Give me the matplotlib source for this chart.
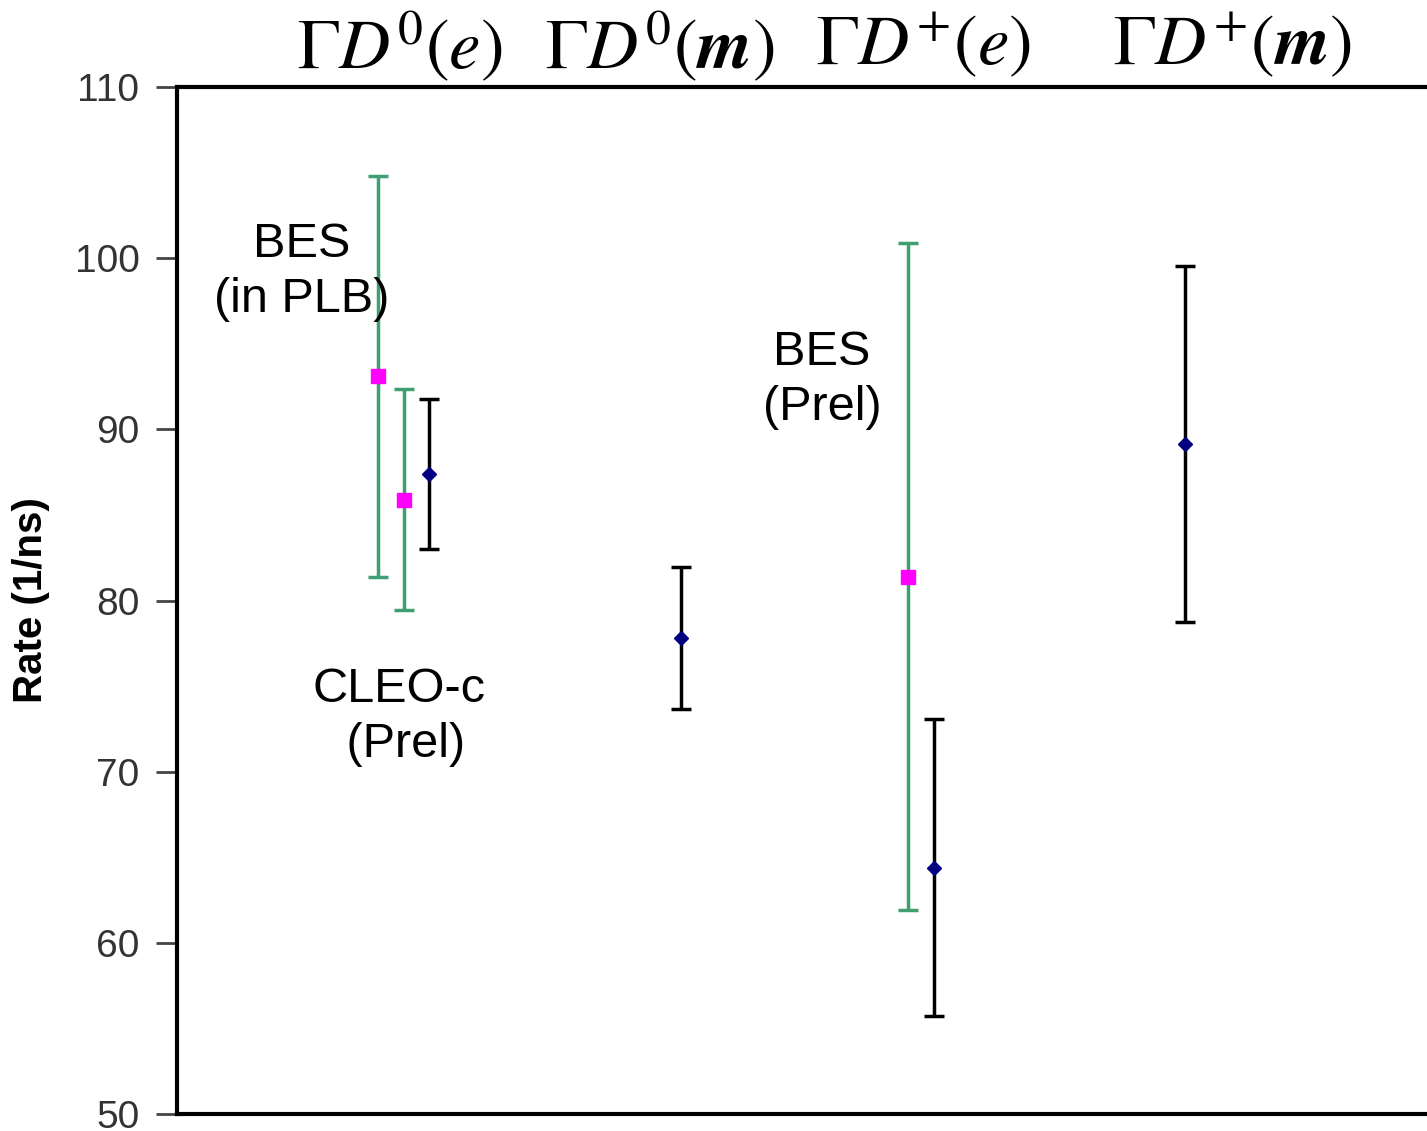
import matplotlib.pyplot as plt

plt.rcParams['mathtext.fontset'] = 'stix'

# BES measurements (green bars, magenta squares)
bes_x = [2.01, 7.31]
bes_rate = [93.1, 81.4]
bes_err = [11.7, 19.5]

# CLEO-c preliminary (green bar, magenta square)
cleo_x = [2.27]
cleo_rate = [85.9]
cleo_err = [6.45]

# reference values (black bars, navy diamonds)
ref_x = [2.52, 5.04, 7.57, 10.08]
ref_rate = [87.4, 77.8, 64.4, 89.15]
ref_err = [4.4, 4.15, 8.7, 10.4]

column_titles = [r'$\Gamma D^{0}(e)$', r'$\Gamma D^{0}(\mathbfit{m})$',
                 r'$\Gamma D^{+}(e)$', r'$\Gamma D^{+}(\mathbfit{m})$']
title_x = [2.23, 4.83, 7.46, 10.55]

yticks = [50, 60, 70, 80, 90, 100, 110]

fig = plt.figure(figsize=(14.27, 11.31), dpi=100)
ax = fig.add_axes([0.124, 0.015, 0.876, 0.908])

green = '#3f9f72'
ax.errorbar(bes_x, bes_rate, yerr=bes_err, fmt='s', color=green, ecolor=green,
            mfc='#ff00ff', mec='#ff00ff', ms=10, elinewidth=2.5, capsize=7, capthick=2.5)
ax.errorbar(cleo_x, cleo_rate, yerr=cleo_err, fmt='s', color=green, ecolor=green,
            mfc='#ff00ff', mec='#ff00ff', ms=10, elinewidth=2.5, capsize=7, capthick=2.5)
ax.errorbar(ref_x, ref_rate, yerr=ref_err, fmt='D', ecolor='black',
            mfc='#000080', mec='#000080', ms=7, elinewidth=2.5, capsize=7, capthick=2.5)

ax.set_xlim(0, 12.5)
ax.set_ylim(50, 110)
ax.set_xticks([])
ax.set_yticks(yticks)
ax.tick_params(axis='y', direction='out', length=15, width=2, color='#444444',
               labelsize=28, labelcolor='#333333', pad=12)
for lbl in ax.get_yticklabels():
    lbl.set_fontfamily('Liberation Sans')
for side in ['top', 'left', 'bottom']:
    ax.spines[side].set_linewidth(3)
ax.spines['right'].set_visible(False)

ax.set_ylabel('Rate (1/ns)', fontsize=29, fontweight='bold',
              fontfamily='Liberation Sans', labelpad=18)

# text labels next to the measurements
label_kw = dict(ha='center', va='center', fontsize=35,
                fontfamily='Liberation Sans', linespacing=1.3)
ax.text(1.25, 99.2, 'BES\n(in PLB)', **label_kw)
ax.text(2.22, 73.2, 'CLEO-c\n (Prel)', **label_kw)
ax.text(6.45, 92.9, 'BES\n(Prel)', **label_kw)

for x, t in zip(title_x, column_titles):
    ax.text(x, 1.04, t, transform=ax.get_xaxis_transform(), ha='center',
            va='center', fontsize=51)

fig.savefig('out.png', dpi=100)
